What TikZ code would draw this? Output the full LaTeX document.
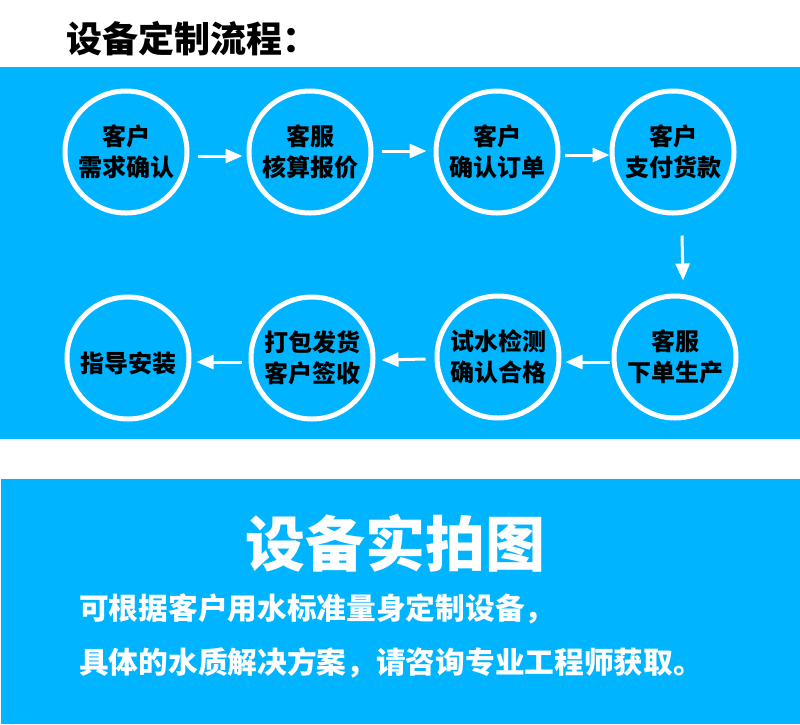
\documentclass[tikz,border=0pt]{standalone}
\usepackage{fontspec}
\newfontfamily\cjk{Noto Sans CJK SC}
\usetikzlibrary{arrows.meta}
\definecolor{bandblue}{RGB}{0,180,255}
\begin{document}
\begin{tikzpicture}[x=1pt,y=-1pt,
  stepcircle/.style={circle,draw=white,line width=5pt,minimum size=122pt,inner sep=0pt,
    align=center,font=\cjk\bfseries\fontsize{24}{31}\selectfont,text=black},
  arr/.style={white,line width=3pt,-{Triangle[length=17pt,width=14pt]}},
  bodytext/.style={anchor=west,text=white,font=\cjk\bfseries\fontsize{29.7}{30}\selectfont,inner sep=0pt}]
\useasboundingbox (0,0) rectangle (800,724);
\fill[white] (0,0) rectangle (800,724);
\fill[bandblue] (0,67) rectangle (800,439);
\fill[bandblue] (1,479) rectangle (800,724);
\node[anchor=west,inner sep=0pt,font=\cjk\bfseries\fontsize{36}{40}\selectfont] (title) at (66,39) {设备定制流程：};
% row 1
\node[stepcircle] (c1) at (126,152) {客户\\需求确认};
\node[stepcircle] (c2) at (310,152) {客服\\核算报价};
\node[stepcircle] (c3) at (497,152) {客户\\确认订单};
\node[stepcircle] (c4) at (673,152) {客户\\支付货款};
% row 2
\node[stepcircle] (c5) at (675,357) {客服\\下单生产};
\node[stepcircle] (c6) at (498,357) {试水检测\\确认合格};
\node[stepcircle] (c7) at (312,358) {打包发货\\客户签收};
\node[stepcircle] (c8) at (128,358) {\rule{0pt}{31pt}指导安装};
% arrows
\draw[arr] ([xshift=8pt,yshift=-4pt]c1.east) -- ([xshift=-4pt,yshift=-4pt]c2.west);
\draw[arr] ([xshift=8pt,yshift=1pt]c2.east) -- ([xshift=-7pt,yshift=1pt]c3.west);
\draw[arr] ([xshift=4pt,yshift=-3pt]c3.east) -- ([xshift=0pt,yshift=-3pt]c4.west);
\draw[arr] ([xshift=9pt,yshift=-20pt]c4.south) -- ([xshift=8pt,yshift=13pt]c5.north);
\draw[arr] ([xshift=-2pt,yshift=-5pt]c5.west) -- ([xshift=4pt,yshift=-5pt]c6.east);
\draw[arr] ([xshift=-9pt,yshift=-2pt]c6.west) -- ([xshift=6pt,yshift=-2pt]c7.east);
\draw[arr] ([xshift=-7pt,yshift=-4pt]c7.west) -- ([xshift=5pt,yshift=-4pt]c8.east);
% bottom band
\node[text=white,inner sep=0pt,font=\cjk\bfseries\fontsize{60}{64}\selectfont] (photo) at (395,543) {设备实拍图};
\node[bodytext] (line1) at (79,609) {可根据客户用水标准量身定制设备，};
\node[bodytext] (line2) at (79,663) {具体的水质解决方案，请咨询专业工程师获取。};
\end{tikzpicture}
\end{document}
